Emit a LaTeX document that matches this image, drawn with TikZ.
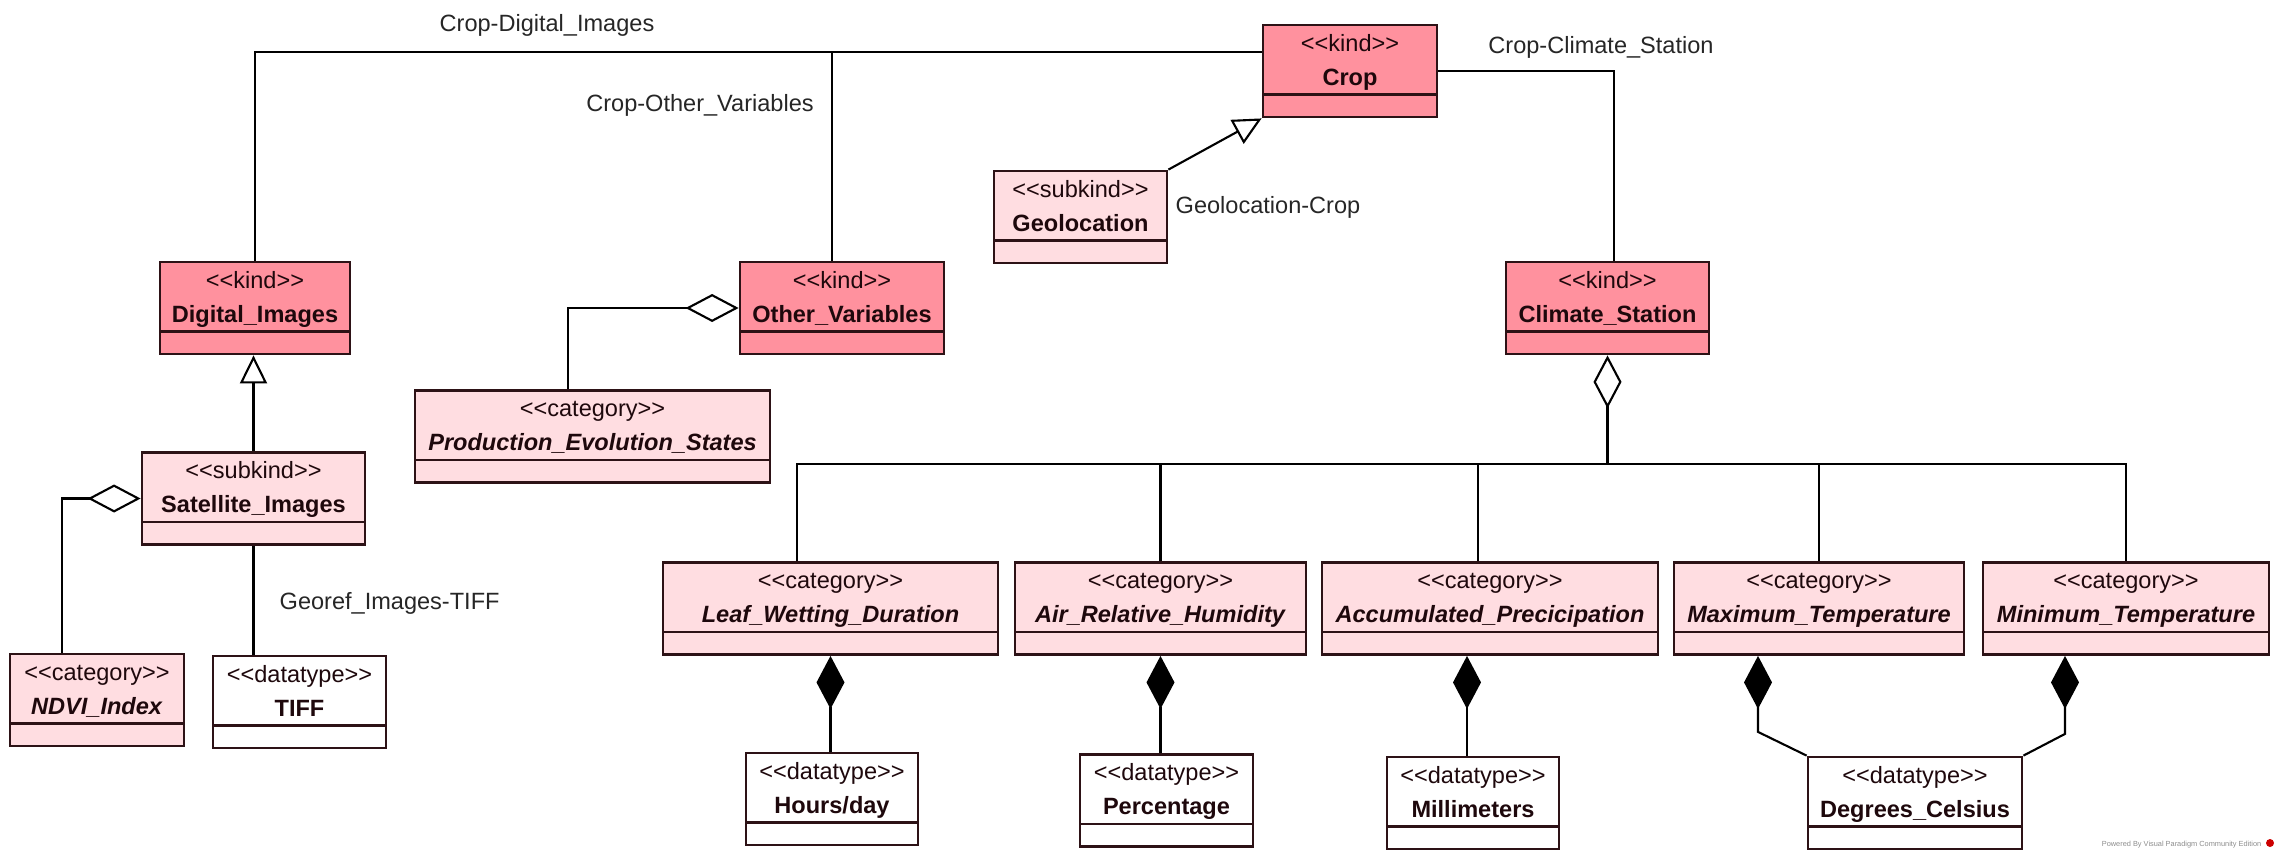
\documentclass[tikz,border=0pt]{standalone}
\usepackage{fontspec}
\setmainfont{Liberation Sans}
\usetikzlibrary{arrows.meta, calc}

\definecolor{kindpink}{RGB}{255,145,158}
\definecolor{catpink}{RGB}{255,221,225}
\definecolor{umlborder}{RGB}{45,18,22}
\definecolor{umltext}{RGB}{30,8,12}
% stereotype brackets, kerned so they stay two plain < and >
\newcommand{\stereo}[1]{<\kern0pt<#1>\kern0pt>}

\begin{document}
\begin{tikzpicture}[
    x=0.1mm, y=-0.1mm,
    umlclass/.style ={draw=umlborder, line width=0.8pt, inner sep=0pt, align=center, text=umltext,
                      font=\fontsize{6.7pt}{3.4mm}\selectfont,
                      execute at begin node={\rule{0pt}{2.6mm}},
                      execute at end node={\rule[-3.2mm]{0pt}{3.2mm}},
                      path picture={\draw[umlborder, line width=0.8pt]
                          ([yshift=2.25mm]path picture bounding box.south west) --
                          ([yshift=2.25mm]path picture bounding box.south east);}},
    kindbox/.style   ={umlclass, fill=kindpink, text width=#1},
    catbox/.style    ={umlclass, fill=catpink, text width=#1},
    databox/.style   ={umlclass, fill=white, text width=#1},
    assoc/.style     ={draw=black, line width=0.6pt},
    gen/.style       ={assoc, -{Triangle[open, length=2.8mm, width=2.7mm]}},
    aggr/.style      ={assoc, {Diamond[open, length=5.3mm, width=2.8mm]}-},
    comp/.style      ={assoc, {Diamond[length=5.3mm, width=2.8mm]}-},
    rolelabel/.style ={font=\fontsize{6.7pt}{8pt}\selectfont, text=black!85, inner sep=0pt}
]
\useasboundingbox (0,0) rectangle (2284,862);

% ---------- kinds ----------
\node[kindbox=17.4mm] (crop)    at (1350,71)    {\stereo{kind}\\\textbf{Crop}};
\node[kindbox=19mm]   (digital) at (255,308)    {\stereo{kind}\\\textbf{Digital\_Images}};
\node[kindbox=20.4mm] (other)   at (842,308)    {\stereo{kind}\\\textbf{Other\_Variables}};
\node[kindbox=20.3mm] (climate) at (1607.5,308) {\stereo{kind}\\\textbf{Climate\_Station}};

% ---------- subkinds ----------
\node[catbox=17.3mm] (geo) at (1080.5,217) {\stereo{subkind}\\\textbf{Geolocation}};
\node[catbox=22.3mm] (sat) at (253.5,498.5) {\stereo{subkind}\\\textbf{Satellite\_Images}};

% ---------- categories ----------
\node[catbox=35.5mm] (prod)  at (592.5,436.5) {\stereo{category}\\\textbf{\textit{Production\_Evolution\_States}}};
\node[catbox=17.4mm] (ndvi)  at (97,700)      {\stereo{category}\\\textbf{\textit{NDVI\_Index}}};
\node[catbox=33.5mm] (leaf)  at (830.5,608.5) {\stereo{category}\\\textbf{\textit{Leaf\_Wetting\_Duration}}};
\node[catbox=29.1mm] (air)   at (1160.5,608.5) {\stereo{category}\\\textbf{\textit{Air\_Relative\_Humidity}}};
\node[catbox=33.6mm] (accum) at (1490,608.5)  {\stereo{category}\\\textbf{\textit{Accumulated\_Precicipation}}};
\node[catbox=29mm]   (maxt)  at (1819,608.5)  {\stereo{category}\\\textbf{\textit{Maximum\_Temperature}}};
\node[catbox=28.6mm] (mint)  at (2126,608.5)  {\stereo{category}\\\textbf{\textit{Minimum\_Temperature}}};

% ---------- datatypes ----------
\node[databox=17.3mm] (tiff)  at (299.5,702)  {\stereo{datatype}\\\textbf{TIFF}};
\node[databox=17.2mm] (hours) at (832,799)    {\stereo{datatype}\\\textbf{Hours/day}};
\node[databox=17.3mm] (perc)  at (1166.5,800.5) {\stereo{datatype}\\\textbf{Percentage}};
\node[databox=17.2mm] (mm)    at (1473,803)   {\stereo{datatype}\\\textbf{Millimeters}};
\node[databox=21.4mm] (deg)   at (1915,803)   {\stereo{datatype}\\\textbf{Degrees\_Celsius}};

% ---------- association names ----------
\node[rolelabel] (lblDigital) at (547,25)  {Crop-Digital\_Images};
\node[rolelabel] (lblOther)   at (700,105) {Crop-Other\_Variables};
\node[rolelabel] (lblClimate) at (1601,47) {Crop-Climate\_Station};
\node[rolelabel, anchor=west] (lblGeo)  at (1175,207) {Geolocation-Crop};
\node[rolelabel, anchor=west] (lblTiff) at (279,603)  {Georef\_Images-TIFF};

% ---------- links from Crop ----------
\draw[assoc] ([yshift=1.9mm]crop.west) -| (digital.north);
\draw[assoc] ([yshift=1.9mm]crop.west) -| ([xshift=-1mm]other.north);
\draw[assoc] (crop.east) -| ([xshift=0.65mm]climate.north);
\draw[gen] (geo.north east) -- (crop.south west);

% ---------- digital images ----------
\draw[gen] (sat.north) -- (sat.north |- digital.south);
\draw[aggr] (sat.west) -| ([xshift=-3.5mm]ndvi.north);
\draw[assoc] (sat.south) -- (sat.south |- tiff.north);

% ---------- other variables ----------
\draw[aggr] (other.west) -| ([xshift=-2.45mm]prod.north);

% ---------- climate station and its measures ----------
\coordinate (bus) at (1605,464);
\draw[aggr] (climate.south) -- (climate.south |- bus);
\draw[assoc] ([xshift=-3.35mm]leaf.north) |- (bus) -| (mint.north);
\draw[assoc] (air.north) -- (air.north |- bus);
\draw[assoc] ([xshift=-1.2mm]accum.north) -- ([xshift=-1.2mm]accum.north |- bus);
\draw[assoc] (maxt.north) -- (maxt.north |- bus);

\draw[comp] (leaf.south) -- (leaf.south |- hours.north);
\draw[comp] (air.south) -- (air.south |- perc.north);
\draw[comp] ([xshift=-2.3mm]accum.south) -- ([xshift=-2.3mm]accum.south |- mm.north);
\draw[comp] ([xshift=-6.1mm]maxt.south) -- ++(0pt,-7.6mm) -- (deg.north west);
\draw[comp] ([xshift=-6.1mm]mint.south) -- ++(0pt,-7.8mm) -- (deg.north east);

% ---------- tool mark ----------
\node[font=\fontsize{2.1pt}{2.5pt}\selectfont, text=black!45, anchor=east, inner sep=0pt] (wmark) at (2262,845)
    {Powered By Visual Paradigm Community Edition};
\fill[red!80!black] (2270,843) circle (4);

\end{tikzpicture}
\end{document}
